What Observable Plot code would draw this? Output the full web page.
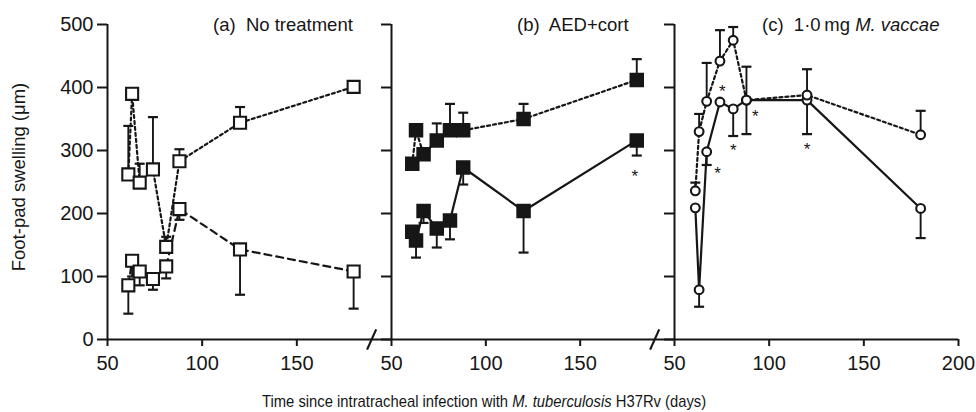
<!DOCTYPE html>
<html><head><meta charset="utf-8">
<script src="https://cdn.jsdelivr.net/npm/d3@7"></script>
<script src="https://cdn.jsdelivr.net/npm/@observablehq/plot@0.6"></script>
<style>
body{margin:0;background:#fff;}
#chart{position:relative;width:976px;height:412px;font-family:"Liberation Sans",Arial,Helvetica,sans-serif;color:#161616;overflow:hidden;}
#chart svg{position:absolute;top:0;overflow:visible;}
.lbl{position:absolute;white-space:pre;line-height:1;}
</style></head><body><div id="chart"></div>
<script>
// ---- data ----
const days = [61, 63, 67, 74, 81, 88, 120, 180];
const yTicks = [0, 100, 200, 300, 400, 500];
const xTicksAB = [50, 100, 150];
const xTicksC = [50, 100, 150, 200];
const breakDays = [189.5];

// (a) No treatment (open squares)
const aDotted = [262, 390, 249, 270, 147, 283, 344, 401];
const aDottedErr = [339, null, 279, 353, 163, 302, 369, null];
const aDashed = [86, 125, 108, 96, 116, 207, 143, 108];
const aDashedErr = [41, 100, 86, 79, 97, 190, 71, 49];

// (b) AED+cort (filled squares)
const bDotted = [279, 332, 294, 316, 332, 332, 350, 412];
const bDottedErr = [null, null, null, 343, 374, 360, 374, 445];
const bSolid = [171, 157, 204, 176, 189, 273, 204, 316];
const bSolidErr = [null, 130, 185, 146, 159, 246, 138, 292];
const bStarDays = [179];
const bStarVals = [263];

// (c) 1.0 mg M. vaccae (open circles)
const cDotted = [236, 330, 378, 442, 475, 380, 388, 325];
const cDottedErr = [249, 358, 439, 491, 496, 433, 429, 363];
const cSolid = [209, 79, 298, 377, 366, 380, 380, 208];
const cSolidErr = [null, 52, 277, null, 323, 326, 326, 161];
const cStarDays = [72.7, 75.3, 81, 92.7, 120];
const cStarVals = [268, 398, 304, 358, 306];

// ---- helpers ----
const ink = "#161616";
const FONT = '"Liberation Sans", Arial, Helvetica, sans-serif';
const rows = (vals, errs) => days.map((d, i) => ({day: d, v: vals[i], e: errs[i]}));
const stars = (ds, vs) => ds.map((d, i) => ({day: d, v: vs[i]}));
const capSymbol = {draw(ctx, size) { const w = Math.sqrt(size / Math.PI); ctx.moveTo(-w, 0); ctx.lineTo(w, 0); }};

function seriesMarks(data, dash) {
  const withErr = data.filter(d => d.e != null);
  return [
    Plot.line(data, {x: "day", y: "v", stroke: ink, strokeWidth: 2.2, strokeDasharray: dash}),
    Plot.ruleX(withErr, {x: "day", y1: "v", y2: "e", stroke: ink, strokeWidth: 1.9}),
    Plot.dot(withErr, {x: "day", y: "e", symbol: capSymbol, r: 5, stroke: ink, strokeWidth: 2.2, fill: "none"})
  ];
}
function dotMarks(data, symbol, r, fill) {
  return Plot.dot(data, {x: "day", y: "v", symbol, r, fill, stroke: ink, strokeWidth: 2.1});
}

function panel({left, width, marginLeft, marginRight, xTicks, yLabels, brk, marks}) {
  const svg = Plot.plot({
    width, height: 360, marginTop: 24, marginBottom: 21, marginLeft, marginRight,
    x: {domain: [50, 200]}, y: {domain: [0, 500]},
    style: {background: "transparent", overflow: "visible", fontFamily: FONT, color: ink},
    marks: [
      Plot.ruleY([0], {stroke: ink, strokeWidth: 2}),
      Plot.ruleX([50], {y1: 0, y2: 500, stroke: ink, strokeWidth: 2}),
      Plot.axisX(xTicks, {tickSize: 7, tickPadding: 9, tickFormat: d => String(d), fontSize: 20, strokeWidth: 2, label: null}),
      Plot.axisY(yTicks, {tickSize: 10, tickPadding: 4, tickFormat: yLabels ? (d => String(d)) : (() => ""), fontSize: 20, strokeWidth: 2, label: null}),
      brk ? Plot.link(breakDays, {x1: d => d - 2.4, x2: d => d + 2.4, y1: () => -16, y2: () => 16, stroke: ink, strokeWidth: 2.2}) : null,
      ...marks
    ]
  });
  svg.style.left = left + "px";
  return svg;
}

const chart = document.getElementById("chart");

// Panel (a)
const aU = rows(aDotted, aDottedErr), aL = rows(aDashed, aDashedErr);
chart.appendChild(panel({left: 0, width: 391, marginLeft: 107, marginRight: 0, xTicks: xTicksAB, yLabels: true, brk: true, marks: [
  ...seriesMarks(aL, "7,5"), ...seriesMarks(aU, "3,3"),
  dotMarks(aL, "square", 6.8, "white"), dotMarks(aU, "square", 6.8, "white")
]}));

// Panel (b)
const bU = rows(bDotted, bDottedErr), bL = rows(bSolid, bSolidErr);
chart.appendChild(panel({left: 376, width: 298, marginLeft: 15, marginRight: 0, xTicks: xTicksAB, yLabels: false, brk: true, marks: [
  ...seriesMarks(bL, null), ...seriesMarks(bU, "3,3"),
  dotMarks(bL, "square", 7, ink), dotMarks(bU, "square", 7, ink),
  Plot.text(stars(bStarDays, bStarVals), {x: "day", y: "v", text: () => "*", fontSize: 17, dy: 3, fill: ink})
]}));

// Panel (c)
const cU = rows(cDotted, cDottedErr), cL = rows(cSolid, cSolidErr);
chart.appendChild(panel({left: 659, width: 317, marginLeft: 15, marginRight: 18, xTicks: xTicksC, yLabels: false, brk: false, marks: [
  ...seriesMarks(cL, null), ...seriesMarks(cU, "3,3"),
  dotMarks(cL, "circle", 4.4, "white"), dotMarks(cU, "circle", 4.4, "white"),
  Plot.text(stars(cStarDays, cStarVals), {x: "day", y: "v", text: () => "*", fontSize: 17, dy: 3, fill: ink})
]}));

// Text labels
function label(html, css) {
  const d = document.createElement("div");
  d.className = "lbl";
  d.innerHTML = html;
  Object.assign(d.style, css);
  chart.appendChild(d);
}
label("(a)  No treatment", {left: "213px", top: "16px", fontSize: "18.5px"});
label("(b)  AED+cort", {left: "517px", top: "16px", fontSize: "18.5px"});
label("(c)  1·0\u2009mg <i>M. vaccae</i>", {left: "762px", top: "16px", fontSize: "18.5px"});
label("Foot-pad swelling (μm)", {left: "19px", top: "177px", fontSize: "18.5px", transform: "translate(-50%,-50%) rotate(-90deg)"});
label("Time since intratracheal infection with <i>M. tuberculosis</i> H37Rv (days)", {left: "262px", top: "393px", fontSize: "17px", transform: "scaleX(0.87)", transformOrigin: "0 0"});
</script>
</body></html>
